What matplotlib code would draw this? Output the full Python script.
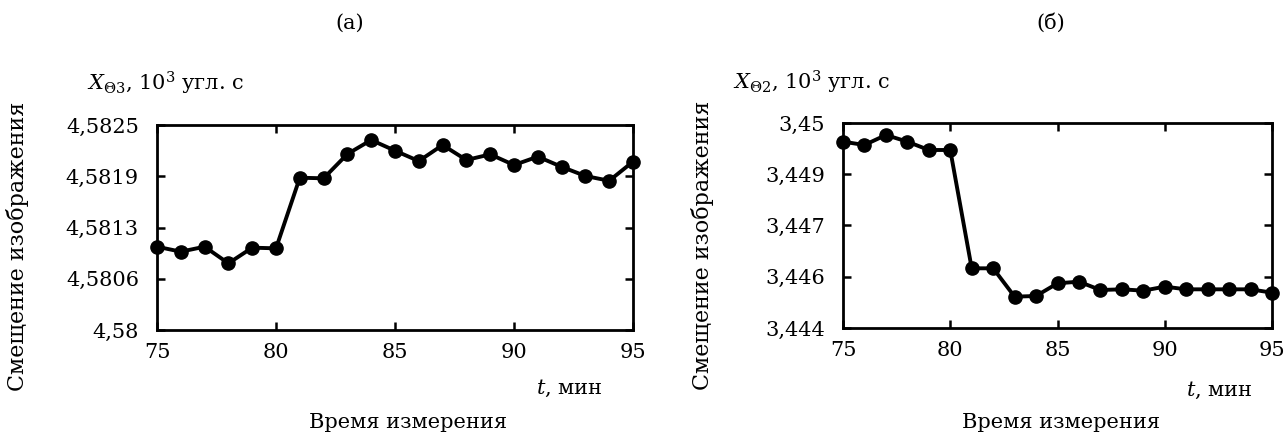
import matplotlib
matplotlib.use("Agg")
import matplotlib.pyplot as plt
import numpy as np

plt.rcParams['font.family'] = 'serif'
plt.rcParams['font.serif'] = ['DejaVu Serif']
plt.rcParams['mathtext.fontset'] = 'dejavuserif'

t = [75, 76, 77, 78, 79, 80, 81, 82, 83, 84, 85, 86, 87, 88, 89, 90, 91, 92, 93, 94, 95]

# panel (a)
x_a = [4.581016, 4.580955, 4.581016, 4.580813, 4.581004, 4.580996, 4.581857,
       4.581850, 4.582146, 4.582317, 4.582187, 4.582060, 4.582256, 4.582073,
       4.582142, 4.582012, 4.582114, 4.581990, 4.581878, 4.581820, 4.582053]
ylim_a = (4.58, 4.5825)
ylabels_a = ['4,58', '4,5806', '4,5813', '4,5819', '4,5825']

# panel (b)
x_b = [3.449454, 3.449356, 3.449649, 3.449454, 3.449210, 3.449210, 3.445747,
       3.445747, 3.444917, 3.444937, 3.445308, 3.445356, 3.445112, 3.445132,
       3.445093, 3.445210, 3.445132, 3.445132, 3.445132, 3.445132, 3.445034]
ylim_b = (3.444, 3.45)
ylabels_b = ['3,444', '3,446', '3,447', '3,449', '3,45']

xticks = [75, 80, 85, 90, 95]

W, H = 1284, 437
fig = plt.figure(figsize=(W / 100, H / 100), dpi=100)
fs = 15


def px(x, y):
    return x / W, 1 - y / H


def panel(rect, y, ylim, ylabels):
    ax = fig.add_axes(rect)
    ax.plot(t, y, '-o', color='black', lw=2.8, ms=9.5, clip_on=False)
    ax.set_xlim(75, 95)
    ax.set_ylim(*ylim)
    ax.set_xticks(xticks)
    ax.set_yticks(np.linspace(ylim[0], ylim[1], 5))
    ax.set_yticklabels(ylabels)
    ax.tick_params(direction='in', length=6, width=1.8, labelsize=fs,
                   top=True, right=True)
    ax.tick_params(axis='y', pad=13)
    ax.tick_params(axis='x', pad=9)
    for s in ax.spines.values():
        s.set_linewidth(2.0)
    return ax


# axes rectangles from pixel bounds
ax_a = panel([157 / W, 1 - 330 / H, (633 - 157) / W, 205 / H], x_a, ylim_a, ylabels_a)
ax_b = panel([843 / W, 1 - 328 / H, (1272 - 843) / W, 205 / H], x_b, ylim_b, ylabels_b)

fig.text(*px(350, 23), '(а)', ha='center', va='center', fontsize=15)
fig.text(*px(1051, 23), '(б)', ha='center', va='center', fontsize=15)

fig.text(*px(87, 83), r'$X_{\Theta 3}$, $10^3$ угл. с', ha='left', va='center', fontsize=fs)
fig.text(*px(733, 82), r'$X_{\Theta 2}$, $10^3$ угл. с', ha='left', va='center', fontsize=fs)

fig.text(*px(18, 246), 'Смещение изображения', rotation=90, ha='center', va='center', fontsize=16)
fig.text(*px(703, 245), 'Смещение изображения', rotation=90, ha='center', va='center', fontsize=16)

fig.text(*px(603, 388), r'$t$, мин', ha='right', va='center', fontsize=fs)
fig.text(*px(1253, 390), r'$t$, мин', ha='right', va='center', fontsize=fs)

fig.text(*px(408, 422), 'Время измерения', ha='center', va='center', fontsize=fs)
fig.text(*px(1061, 422), 'Время измерения', ha='center', va='center', fontsize=fs)

fig.savefig('out.png', dpi=100)
